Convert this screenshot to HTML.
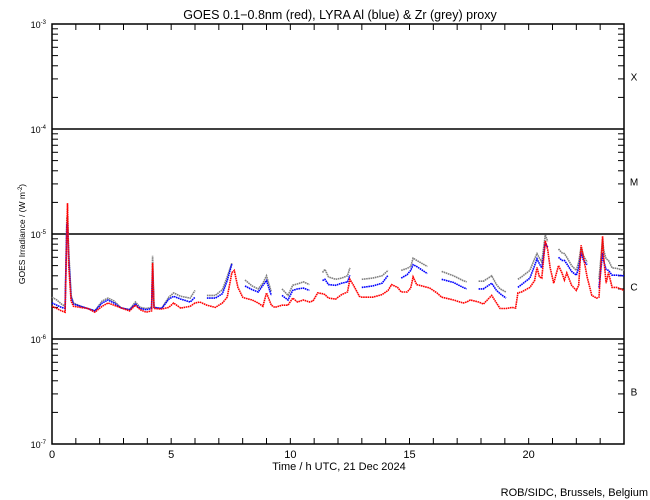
<!DOCTYPE html>
<html><head><meta charset="utf-8"><style>
html,body{margin:0;padding:0;background:#fff;}
svg{display:block;font-family:"Liberation Sans",sans-serif;}
</style></head><body>
<svg id="chart" width="650" height="500" viewBox="0 0 650 500" xmlns="http://www.w3.org/2000/svg">
<rect width="650" height="500" fill="#fff"/>
<text x="340" y="19" font-size="12.5" text-anchor="middle">GOES 0.1−0.8nm (red), LYRA Al (blue) &amp; Zr (grey) proxy</text>
<g id="axes"></g>
<g id="series"></g>
<text x="339" y="470" font-size="11" text-anchor="middle">Time / h UTC, 21 Dec 2024</text>
<text transform="translate(25,234) rotate(-90)" font-size="8.5" text-anchor="middle">GOES Irradiance / (W m<tspan dy="-3" font-size="6">-2</tspan><tspan dy="3">)</tspan></text>
<text x="648" y="496" font-size="11" text-anchor="end">ROB/SIDC, Brussels, Belgium</text>
</svg>
<script>
const hours = [0.0,0.2,0.4,0.55,0.62,0.65,0.7,0.8,0.9,1.2,1.5,1.8,2.1,2.35,2.6,2.9,3.25,3.5,3.7,3.95,4.18,4.22,4.28,4.6,4.9,5.1,5.4,5.8,6.0,6.2,6.5,6.85,7.15,7.35,7.55,7.65,7.8,8.0,8.1,8.4,8.65,8.85,9.0,9.2,9.35,9.65,9.9,10.1,10.3,10.55,10.8,10.95,11.15,11.35,11.45,11.6,11.9,12.15,12.4,12.5,12.65,12.9,13.0,13.45,13.85,14.1,14.25,14.5,14.65,14.9,15.05,15.15,15.3,15.75,15.85,16.15,16.35,16.85,17.25,17.4,17.55,17.9,18.1,18.45,18.65,18.8,19.05,19.15,19.3,19.45,19.55,19.7,20.05,20.25,20.35,20.45,20.55,20.7,20.8,20.9,21.05,21.25,21.4,21.5,21.6,21.8,22.0,22.1,22.2,22.3,22.45,22.65,22.85,22.95,23.1,23.15,23.25,23.35,23.5,23.7,24.0];
// values in units of 1e-6 W/m^2
const redValues = [2.05,1.95,1.85,1.8,10,19.7,5,2.3,2.05,2.0,1.95,1.8,2.05,2.2,2.1,1.98,1.85,2.1,1.9,1.8,1.85,5.3,1.95,1.93,2.0,2.2,1.97,2.05,2.2,2.25,2.1,2.0,2.2,2.5,4.3,4.5,3.1,2.5,2.45,2.35,2.2,2.05,2.75,2.1,2.0,2.1,2.1,2.45,2.25,2.35,2.25,2.3,2.75,2.7,2.65,2.45,2.4,2.65,2.8,3.7,3.25,2.55,2.5,2.5,2.65,2.9,3.3,3.1,2.8,2.8,3.05,3.9,3.3,3.1,3.05,2.75,2.5,2.35,2.2,2.25,2.35,2.25,2.15,2.6,2.2,1.95,1.95,1.97,2.0,1.97,2.75,2.8,3.1,3.6,4.8,3.9,3.8,8.6,7.1,4.8,3.4,5.0,4.25,3.65,4.25,3.25,2.9,3.25,7.8,6.0,3.9,2.6,2.45,2.5,9.5,6.0,3.4,4.3,3.1,3.1,2.9];
const blueValues = [2.2,2.1,2.0,1.95,12,13,6,2.5,2.15,2.05,1.95,1.85,2.2,2.35,2.2,1.98,1.9,2.15,1.95,1.9,1.95,4.5,2.0,1.95,2.4,2.55,2.4,2.25,2.5,null,2.45,2.45,2.7,3.6,5.2,null,null,null,3.2,2.95,2.8,3.25,3.6,2.6,null,2.6,2.35,2.9,3.0,3.05,2.9,null,null,3.6,3.7,3.3,3.25,3.4,3.5,4.05,null,null,3.1,3.2,3.4,4.05,null,null,3.8,4.1,4.5,5.1,4.9,4.2,null,null,3.7,3.45,3.1,3.0,null,3.0,3.0,3.4,2.9,2.7,2.45,null,null,null,3.1,3.3,3.8,5.0,5.8,5.2,4.75,8.2,7.5,null,null,6.0,5.6,5.6,5.2,4.4,4.05,4.8,6.6,5.6,5.1,null,null,3.1,6.6,5.5,4.6,4.5,4.05,4.05,4.0];
const greyValues = [2.5,2.35,2.15,2.05,14,15,7,2.6,2.2,2.05,1.95,1.85,2.3,2.45,2.3,1.98,1.9,2.25,2.0,1.95,2.0,6.2,2.0,1.95,2.5,2.75,2.55,2.45,2.9,null,2.6,2.6,2.95,3.9,5.3,null,null,null,3.65,3.2,3.0,3.4,4.0,2.8,null,3.0,2.6,3.25,3.35,3.5,3.3,null,null,4.3,4.6,3.9,3.7,3.8,4.0,4.75,null,null,3.7,3.8,4.0,4.5,null,null,4.5,4.7,4.9,5.9,5.6,4.9,null,null,4.4,4.0,3.6,3.5,null,3.55,3.55,4.0,3.3,3.0,2.8,null,null,null,3.7,3.9,4.5,5.8,6.5,5.9,5.4,9.8,8.5,null,null,7.2,6.6,6.5,6.0,5.0,4.5,5.4,7.5,6.2,5.4,null,null,3.7,9.0,7.0,5.8,5.6,4.75,4.7,4.5];
const xTicks = [0,5,10,15,20];
const decades = [-3,-4,-5,-6,-7];
const classLabels = ["X","M","C","B"];

const NS="http://www.w3.org/2000/svg";
const L=52,R=624,T=24,B=444;
function xs(h){return L+(h/24)*(R-L);}
function ys(logv){return T+(-3-logv)*(B-T)/4;}
function yv(v){return ys(Math.log10(v*1e-6));}
function mk(tag,attrs,parent){const e=document.createElementNS(NS,tag);for(const k in attrs)e.setAttribute(k,attrs[k]);parent.appendChild(e);return e;}
const axes=document.getElementById('axes');
const box=mk('rect',{x:L,y:T,width:R-L,height:B-T,fill:'none',stroke:'#000','stroke-width':1.5},axes);


decades.forEach((d,i)=>{
  const y=ys(d);
  if(i>0&&i<decades.length-1){
    const ln=mk('line',{x1:L,x2:R,y1:y,y2:y,stroke:'#000','stroke-width':1.5},axes);
    
    
  }
  const t=mk('text',{x:L-6,y:y+4,'font-size':9,'text-anchor':'end'},axes);
  
  
  t.textContent='10';
  const s=mk('tspan',{dy:-4,'font-size':6},t); s.textContent=String(d);
  if(i<decades.length-1){
    for(let m=2;m<=9;m++){
      const yy=ys(d-1+Math.log10(m));
      const a=mk('line',{x1:L,x2:L+6,y1:yy,y2:yy,stroke:'#000','stroke-width':1},axes);
      
      
      const b=mk('line',{x1:R-6,x2:R,y1:yy,y2:yy,stroke:'#000','stroke-width':1},axes);
      
      
    }
    const c=mk('text',{x:R+10,y:(ys(d)+ys(d-1))/2+4,'font-size':10,'text-anchor':'middle'},axes);
    
    
    c.textContent=classLabels[i];
  }
});
for(let h=1;h<24;h++){
  const x=xs(h);
  const a=mk('line',{x1:x,x2:x,y1:B,y2:B-6,stroke:'#000','stroke-width':1},axes);
  
  
  const b=mk('line',{x1:x,x2:x,y1:T,y2:T+6,stroke:'#000','stroke-width':1},axes);
  
  
}
xTicks.forEach(h=>{
  const t=mk('text',{x:xs(h),y:B+14,'font-size':11,'text-anchor':'middle'},axes);
  
  
  t.textContent=String(h);
});
const ser=document.getElementById('series');
function draw(vals,color,name){
  let seg=[];
  const flush=()=>{
    if(seg.length>1){
      const p=mk('polyline',{points:seg.join(' '),fill:'none',stroke:color,'stroke-width':1.6,'stroke-dasharray':'1.6 0.6'},ser);
      
      
    }
    seg=[];
  };
  vals.forEach((v,i)=>{
    if(v===null){flush();return;}
    seg.push(xs(hours[i]).toFixed(1)+','+yv(v).toFixed(1));
  });
  flush();
}
draw(greyValues,'#808080','zr-proxy-series');
draw(blueValues,'#0000ff','al-proxy-series');
draw(redValues,'#ff0000','goes-series');
</script>
</body></html>
